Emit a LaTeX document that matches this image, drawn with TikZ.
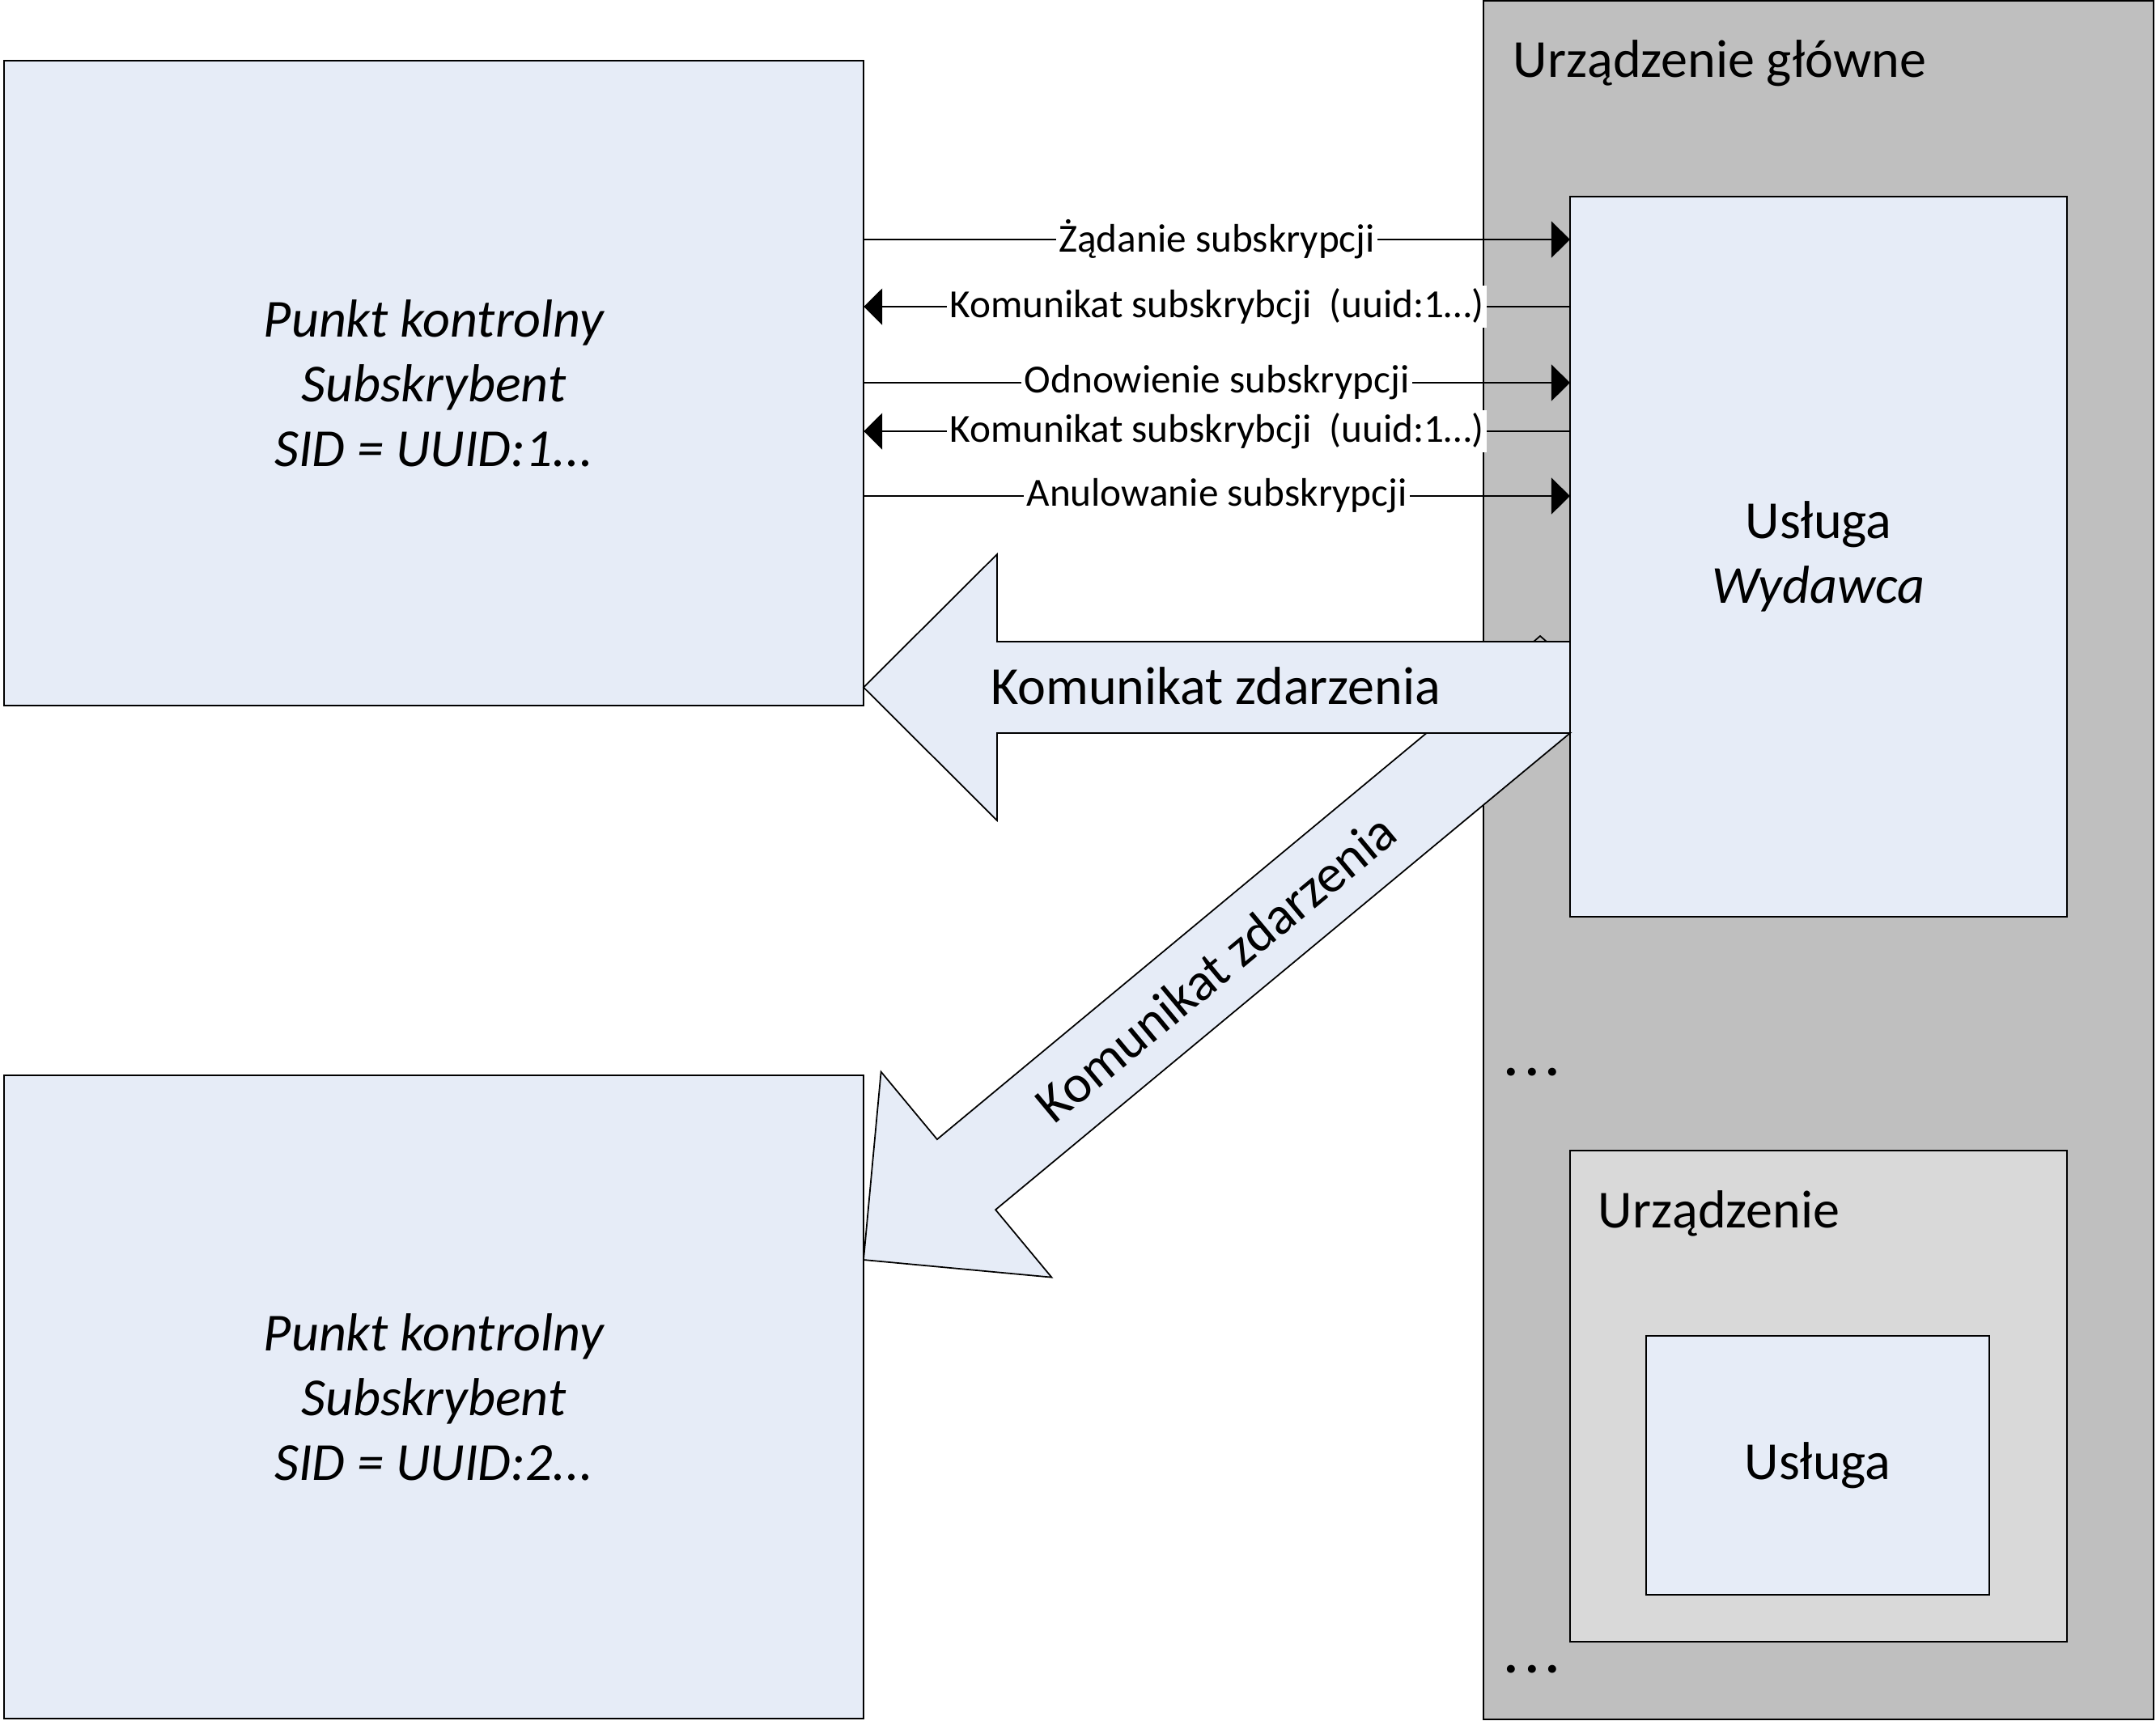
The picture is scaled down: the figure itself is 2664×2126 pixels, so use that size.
\documentclass[tikz,border=0pt]{standalone}
\usepackage{fontspec}
\setmainfont{Carlito}
\usetikzlibrary{arrows.meta}
\definecolor{boxblue}{HTML}{E6ECF7}
\definecolor{devgray}{HTML}{BFBFBF}
\definecolor{subgray}{HTML}{D9D9D9}
\newcommand{\bigtxt}{\fontsize{18.8}{22.8}\selectfont}
\newcommand{\smalltxt}{\fontsize{14}{17}\selectfont}
\newcommand{\boldellip}{{\bfseries .\kern2.2pt.\kern2.2pt.}}
\begin{document}
\begin{tikzpicture}[x=0.01cm, y=-0.01cm,
  box/.style={draw=black, line width=0.6pt, outer sep=0pt, inner sep=0pt},
  bluebox/.style={box, fill=boxblue},
  plaintext/.style={anchor=base west, inner sep=0pt, font=\bigtxt},
  msg/.style={line width=0.5pt, -{Triangle[length=6.5pt, width=12.8pt]}},
  msglabel/.style={midway, fill=white, inner sep=1pt, font=\smalltxt},
  blockarrow/.style={draw=black, line width=0.5pt, fill=boxblue, line join=miter},
]
\useasboundingbox (0,0) rectangle (2664,2126);

% main device
\node[box, fill=devgray, minimum width=8.28cm, minimum height=21.22cm] (main) at (2247,1063) {};
\node[plaintext] (maintitle) at (1869,95) {Urządzenie główne};
\node[bluebox, minimum width=6.14cm, minimum height=8.90cm, align=center, font=\bigtxt] (svc) at (2247,688) {Usługa\\\textit{Wydawca}};
\node[plaintext] (dotsa) at (1858,1329) {\boldellip};
\node[box, fill=subgray, minimum width=6.14cm, minimum height=6.07cm] (dev) at (2247,1725.5) {};
\node[plaintext] (devtitle) at (1974,1517) {Urządzenie};
\node[bluebox, minimum width=4.24cm, minimum height=3.20cm, font=\bigtxt] (svcb) at (2246,1811) {Usługa};
\node[plaintext] (dotsb) at (1858,2067) {\boldellip};

% control points
\node[bluebox, minimum width=10.62cm, minimum height=7.97cm, align=center, font=\bigtxt\itshape] (cpa) at (536,473.5) {Punkt kontrolny\\Subskrybent\\SID = UUID:1...};
\node[bluebox, minimum width=10.62cm, minimum height=7.95cm, align=center, font=\bigtxt\itshape] (cpb) at (536,1726.5) {Punkt kontrolny\\Subskrybent\\SID = UUID:2...};

% diagonal event arrow
\draw[blockarrow] (1762.6,906) -- (1157.9,1408.1) -- (1088.6,1324.6) -- (1067,1557)
  -- (1299.4,1578.6) -- (1230.1,1495.1) -- (1940,906) -- cycle;
\node[font=\bigtxt, rotate=39.7] (evb) at (1502,1196) {Komunikat zdarzenia};

% horizontal event arrow
\draw[blockarrow] (1940,793) -- (1232,793) -- (1232,685) -- (1067,849.5)
  -- (1232,1014) -- (1232,906) -- (1940,906) -- cycle;
\node[font=\bigtxt] (eva) at (1502,848) {Komunikat zdarzenia};
\draw[line width=0.5pt] (1895,793) -- (1903,786) -- (1911,793);

% subscription messages
\draw[msg] (cpa.east |- 0,296) -- node[msglabel] {Żądanie subskrypcji} (svc.west |- 0,296);
\draw[msg] (svc.west |- 0,379) -- node[msglabel] {Komunikat subskrybcji~ (uuid:1…)} (cpa.east |- 0,379);
\draw[msg] (cpa.east |- 0,473) -- node[msglabel] {Odnowienie subskrypcji} (svc.west |- 0,473);
\draw[msg] (svc.west |- 0,533) -- node[msglabel] {Komunikat subskrybcji~ (uuid:1…)} (cpa.east |- 0,533);
\draw[msg] (cpa.east |- 0,613) -- node[msglabel] {Anulowanie subskrypcji} (svc.west |- 0,613);
\end{tikzpicture}
\end{document}
